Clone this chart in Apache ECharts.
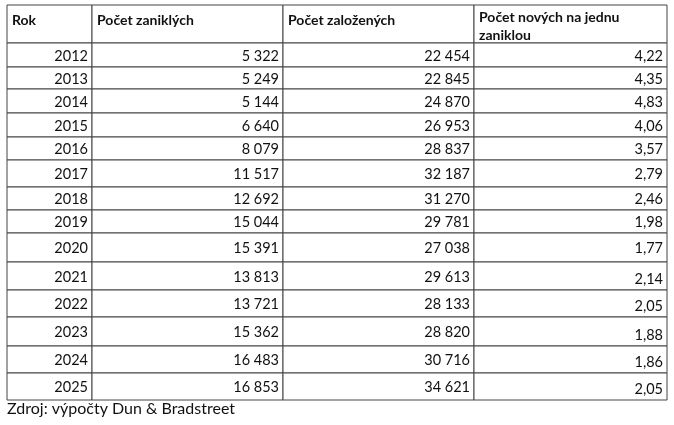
<!DOCTYPE html>
<html><head><meta charset="utf-8">
<script src="https://cdn.jsdelivr.net/npm/echarts@6/dist/echarts.min.js"></script>
<style>html,body{margin:0;background:#fff}#c{width:674px;height:425px}</style>
</head><body><div id="c"></div>
<script>
const headers = ['Rok', 'Počet zaniklých', 'Počet založených', 'Počet nových na jednu\nzaniklou'];
const years = [2012, 2013, 2014, 2015, 2016, 2017, 2018, 2019, 2020, 2021, 2022, 2023, 2024, 2025];
const closed = [5322, 5249, 5144, 6640, 8079, 11517, 12692, 15044, 15391, 13813, 13721, 15362, 16483, 16853];
const founded = [22454, 22845, 24870, 26953, 28837, 32187, 31270, 29781, 27038, 29613, 28133, 28820, 30716, 34621];
const ratio = [4.22, 4.35, 4.83, 4.06, 3.57, 2.79, 2.46, 1.98, 1.77, 2.14, 2.05, 1.88, 1.86, 2.05];

// table geometry (page pixels)
const colEdges = [7, 92, 283, 474, 667];
const rowEdges = [5, 43, 67, 89, 113, 137, 160, 187, 210, 233, 262, 290, 317, 346, 373, 400];
const FONT = 'Lato, "Open Sans", sans-serif';

const fmtInt = (n) => String(n).replace(/\B(?=(\d{3})+(?!\d))/g, ' ');
const fmtDec = (n) => n.toFixed(2).replace('.', ',');

const cells = [];
headers.forEach((h, c) => cells.push([c, 0, h, 1]));
years.forEach((y, i) => {
  const r = i + 1;
  cells.push([0, r, String(y), 0], [1, r, fmtInt(closed[i]), 0], [2, r, fmtInt(founded[i]), 0], [3, r, fmtDec(ratio[i]), i >= 9 ? 2 : 0]);
});

const chart = echarts.init(document.getElementById('c'));
chart.setOption({
  animation: false,
  grid: { left: 0, top: 0, right: 0, bottom: 0 },
  xAxis: { type: 'value', min: 0, max: 674, show: false },
  yAxis: { type: 'value', min: 0, max: 425, inverse: true, show: false },
  series: [{
    type: 'custom',
    data: cells,
    renderItem: (params, api) => {
      const c = api.value(0), r = api.value(1), kind = api.value(3), head = kind === 1;
      const p0 = api.coord([colEdges[c], rowEdges[r]]);
      const p1 = api.coord([colEdges[c + 1], rowEdges[r + 1]]);
      const txt = cells[params.dataIndex][2];
      let ty = (p0[1] + p1[1]) / 2 + 1, va = 'middle';
      if (head) { ty = p0[1] + (c === 3 ? 3 : 6); va = 'top'; }
      else if (kind === 2) { ty = p1[1] - 2; va = 'bottom'; }
      return {
        type: 'group',
        children: [
          { type: 'rect', shape: { x: p0[0], y: p0[1], width: p1[0] - p0[0], height: p1[1] - p0[1] },
            style: { fill: '#fff', stroke: '#444', lineWidth: 1 } },
          { type: 'text', x: head ? p0[0] + 5 : p1[0] - 4, y: ty,
            style: { text: txt, fill: '#111', font: (head ? 'bold 14px ' : '14.5px ') + FONT,
              align: head ? 'left' : 'right', verticalAlign: va, lineHeight: 18 } }
        ]
      };
    }
  }],
  graphic: [{ type: 'text', left: 7, top: 401, style: { text: 'Zdroj: výpočty Dun & Bradstreet', font: '16px ' + FONT, fill: '#111' } }]
});
</script></body></html>
